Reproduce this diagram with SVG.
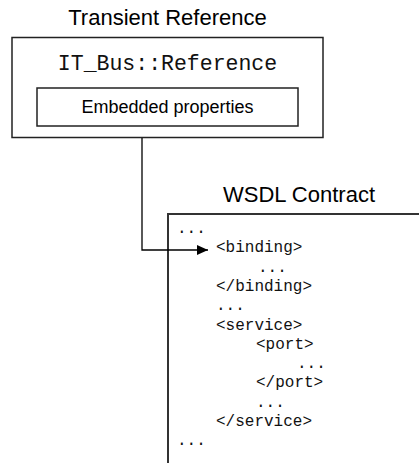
<svg xmlns="http://www.w3.org/2000/svg" width="419" height="463" viewBox="0 0 419 463">
<defs>
<style>
.title{font-family:"Liberation Sans",Arial,sans-serif;font-size:22px;fill:#000}
.sans{font-family:"Liberation Sans",Arial,sans-serif;font-size:18px;fill:#000}
.mono{font-family:"Liberation Mono","Courier New",monospace;fill:#111}
.box{fill:#fff;stroke:#222;stroke-width:1.5}
.wsdl{fill:none;stroke:#333;stroke-width:2}
.conn{fill:none;stroke:#000;stroke-width:1.3}
</style>
<marker id="arrow" markerWidth="12" markerHeight="10" refX="11" refY="5" orient="auto" markerUnits="userSpaceOnUse">
<path d="M0,0 L11,5 L0,10 Z" fill="#000"/>
</marker>
</defs>
<rect width="419" height="463" fill="#fff"/>
<g id="transient-reference">
<text class="title" x="167.5" y="25" text-anchor="middle">Transient Reference</text>
<rect class="box" x="12" y="37.5" width="311" height="100"/>
<text class="mono" x="167.5" y="70" text-anchor="middle" font-size="21.5">IT_Bus::Reference</text>
</g>
<g id="embedded-properties">
<rect class="box" x="37" y="88" width="261" height="38"/>
<text class="sans" x="167.5" y="113" text-anchor="middle">Embedded properties</text>
</g>
<g id="wsdl-contract">
<text class="title" x="223" y="202">WSDL Contract</text>
<path class="wsdl" d="M168 463 V214 H419"/>
<g class="mono" font-size="16">
<text x="177" y="233">...</text>
<text x="216" y="252.3">&lt;binding&gt;</text>
<text x="258" y="271.6">...</text>
<text x="216" y="290.9">&lt;/binding&gt;</text>
<text x="216" y="310.2">...</text>
<text x="216" y="329.5">&lt;service&gt;</text>
<text x="256" y="348.8">&lt;port&gt;</text>
<text x="297" y="368.1">...</text>
<text x="256" y="387.4">&lt;/port&gt;</text>
<text x="256" y="406.7">...</text>
<text x="216" y="426">&lt;/service&gt;</text>
<text x="177" y="445.3">...</text>
</g>
</g>
<g id="connectors">
<path class="conn" d="M142 138 V250 H208" marker-end="url(#arrow)"/>
</g>
</svg>
